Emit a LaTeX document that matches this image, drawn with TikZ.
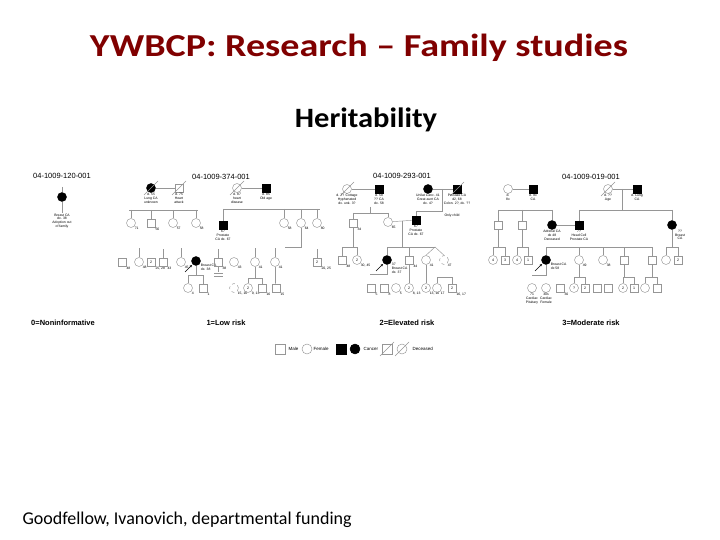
\documentclass[tikz,border=0pt]{standalone}
\usepackage{fontspec}
\setmainfont{Carlito}
\newfontfamily\pedfont{Liberation Sans}
\usepackage{graphicx}
\usepackage{tikz}
\usetikzlibrary{arrows.meta,positioning,calc}
\definecolor{titlered}{RGB}{128,0,0}
\definecolor{pedgray}{RGB}{150,150,150}

\begin{document}
\begin{tikzpicture}[x=1pt,y=1pt,
  male/.style={rectangle,draw=pedgray,line width=0.45pt,minimum size=8.5pt,inner sep=0pt,
               font=\pedfont\fontsize{3.6}{4}\selectfont},
  female/.style={male,circle,minimum size=9pt},
  mcan/.style={male,fill=black,draw=black},
  fcan/.style={female,fill=black,draw=black},
  dec/.style={append after command={($(\tikzlastnode.center)+(-7pt,-7pt)$)
               edge[pedgray,line width=0.45pt] ($(\tikzlastnode.center)+(7pt,7pt)$)}},
  pb/.style={append after command={($(\tikzlastnode.center)+(-11pt,-11pt)$)
               edge[-{Stealth[length=2.5pt,width=2.2pt]},black,line width=0.6pt] ($(\tikzlastnode.center)+(-4pt,-4pt)$)}},
  ped/.style={draw=pedgray,line width=0.45pt},
  lab/.style={font=\pedfont\fontsize{3.4}{3.8}\selectfont,align=center,inner sep=0.6pt},
  num/.style={label={[lab]-50:#1}},
  note/.style={label={[lab]below:#1}},
  hdr/.style={font=\pedfont\fontsize{7.5}{8}\selectfont},
  risk/.style={font=\pedfont\bfseries\fontsize{7.5}{8}\selectfont},
  leg/.style={font=\pedfont\fontsize{4.5}{5}\selectfont,anchor=west,inner sep=0.5pt}
]
\useasboundingbox[fill=white] (0,0) rectangle (720,-540);

% titles
\node[font=\bfseries\fontsize{32}{36}\selectfont,text=titlered,anchor=base] (ttl) at (359,-57) {\scalebox{1.19}[1]{YWBCP: Research – Family studies}};
\node[font=\bfseries\fontsize{28}{32}\selectfont,anchor=base] (sub) at (366,-128) {\scalebox{1.09}[1]{Heritability}};
\node[font=\fontsize{18}{20}\selectfont,anchor=base west] (src) at (19,-524) {Goodfellow, Ivanovich, departmental funding};

% family 0
\node[hdr] (id1) at (62,-176) {04-1009-120-001};
\node[fcan] (a1) at (62,-197) {};
\coordinate (a1up) at (62,-187);
\coordinate (a1dn) at (62,-213);
\draw[ped] (a1up) -- (a1);
\draw[ped] (a1) -- (a1dn);
\node[lab,below=0pt of a1dn] (a1txt) {Breast CA\\dx. 38\\Adoption out\\of family};

% family 1
\node[hdr] (id2) at (221,-177) {04-1009-374-001};
\node[fcan,dec,note={d. 55\\Lung CA\\unknown}] (b1) at (151,-188) {};
\node[male,dec,note={d. 75\\Heart\\attack}] (b2) at (179,-188) {};
\node[female,dec,note={d. 87\\heart\\disease}] (b3) at (237,-188) {};
\node[mcan,note={d. 85\\Old age}] (b4) at (266,-188) {};
\draw[ped] (b1) -- (b2);
\draw[ped] (b3) -- (b4);
\coordinate (s2l) at (129,-210);
\coordinate (s2r) at (198,-210);
\coordinate (s3l) at (223,-209);
\coordinate (s3r) at (320,-209);
\draw[ped] (s2l) -- (s2r);
\draw[ped] (s3l) -- (s3r);
\node[female,num=71] (b5) at (131,-223) {};
\node[male,num=56] (b6) at (151,-223) {};
\node[female,num=57] (b7) at (173,-223) {};
\node[female,num=58] (b8) at (196,-223) {};
\node[mcan,note={67\\Prostate\\CA dx. 67}] (b9) at (223,-225) {};
\node[female,num=58] (b10) at (284,-223) {};
\node[female,num=64] (b11) at (301,-223) {};
\node[female,num=80] (b12) at (317,-223) {};
\foreach \n in {b5,b6,b7,b8}
  \draw[ped] (\n |- s2l) -- (\n);
\foreach \n in {b9,b10,b11,b12}
  \draw[ped] (\n |- s3l) -- (\n);
\coordinate (b11d) at (301,-247);
\coordinate (b11l) at (285,-247);
\draw[ped] (b11) -- (b11d) -- (b11l);
\node[male,num=48] (b13) at (122,-262) {};
\node[female,num=48] (b14) at (139,-262) {};
\node[male,num={25, 28}] (b15) at (151,-262) {2};
\node[male,num=43] (b16) at (163,-262) {};
\node[female,num=45] (b17) at (181,-262) {};
\node[fcan,pb,label={[lab,align=left]-30:Breast CA\\dx. 38}] (b18) at (196,-261) {};
\node[male,num=38] (b19) at (218,-262) {};
\node[female,num=43] (b20) at (234,-262) {};
\node[female,num=41] (b21) at (255,-262) {};
\node[female,num=41] (b22) at (275,-262) {};
\node[male,num={20, 25}] (b23) at (317,-262) {2};
\foreach \n in {b14,b16,b17,b19,b21,b22,b23}
  \draw[ped] (\n.north) -- ++(0,9);
\coordinate (b18d) at (196,-275);
\coordinate (s4l) at (188,-275);
\coordinate (s4r) at (203,-275);
\draw[ped] (b18) -- (b18d);
\draw[ped] (s4l) -- (s4r);
\node[female,num=4] (b24) at (188,-288) {};
\node[male,num=1] (b25) at (203,-288) {};
\draw[ped] (s4l) -- (b24);
\draw[ped] (s4r) -- (b25);
\draw[ped] (b19) -- ++(0,-10);
\draw[ped] (214,-273.5) -- ++(9,0) (214,-276.5) -- ++(9,0);
\node[female,dashed,num={15, 16}] (b26) at (234,-288) {};
\node[female,num={9, 13}] (b27) at (248,-288) {2};
\node[male,num=16] (b28) at (262,-288) {};
\node[male,num=15] (b29) at (276,-288) {};
\coordinate (b21d) at (255,-278);
\draw[ped] (b21) -- (b21d);
\draw[ped] (b27 |- b21d) -- (b28 |- b21d);
\draw[ped] (b27 |- b21d) -- (b27);
\draw[ped] (b28 |- b21d) -- (b28);
\draw[ped] (b22) -- (b22 |- b29.north) -- (b29);

% family 2
\node[hdr] (id3) at (402,-176) {04-1009-293-001};
\node[female,dec,note={d. 7? Cottage\\Hyphenated\\dx. unk. 3?}] (c1) at (347,-189) {};
\node[mcan,note={d. 58\\?? CA\\dx. 58}] (c2) at (379,-189) {};
\node[fcan,note={Unilat Canc. 41\\Great aunt CA\\dx. 4?}] (c3) at (428,-189) {};
\node[mcan,dec,note={Prostate CA\\d2, 68\\Colon. 2?, dx. ??}] (c4) at (457,-189) {};
\draw[ped] (c1) -- (c2);
\draw[ped] (c3) -- (c4);
\node[male,num=34] (c5) at (353,-223) {};
\node[female,num=65] (c6) at (388,-222) {};
\node[mcan,note={67\\Prostate\\CA dx. 67}] (c7) at (416,-220) {};
\coordinate (s5l) at (353,-213);
\coordinate (s5r) at (388,-213);
\coordinate (s5m) at (370,-207);
\draw[ped] (s5l) -- (s5r);
\draw[ped] (s5m) -- (s5m |- s5l);
\draw[ped] (s5l) -- (c5);
\draw[ped] (s5r) -- (c6);
\coordinate (c34) at (442.5,-189);
\coordinate (c34d) at (442.5,-211);
\draw[ped] (c34) -- (c34d) -- (c7 |- c34d) -- (c7);
\node[lab] (only) at (452,-216) {Only child};
\draw[ped] (c6) -- (c7);
\coordinate (c67) at (402,-221);
\coordinate (s6m) at (402,-247);
\coordinate (s6l) at (387,-247);
\coordinate (s6r) at (435,-247);
\draw[ped] (c67) -- (s6m);
\draw[ped] (s6l) -- (s6r);
\coordinate (c5d) at (353,-247);
\coordinate (s7l) at (342,-247);
\coordinate (s7r) at (357,-247);
\draw[ped] (c5) -- (c5d);
\draw[ped] (s7l) -- (s7r);
\node[male,num=48] (c8) at (342,-260) {};
\node[female,num={30, 45}] (c9) at (357,-260) {2};
\node[fcan,pb,label={[lab,align=left]-30:37\\Breast CA\\dx. 37}] (c10) at (387,-260) {};
\node[male,num=44] (c11) at (409,-260) {};
\node[female,num=41] (c12) at (426,-260) {};
\node[female,dashed,num=47] (c13) at (444,-260) {};
\draw[ped] (s7l) -- (c8);
\draw[ped] (s7r) -- (c9);
\draw[ped] (s6l) -- (c10);
\draw[ped] (c11 |- s6l) -- (c11);
\draw[ped] (s6r) -- (c12.north);
\draw[ped] (s6r) -- (c13.north);
\coordinate (c10d) at (387,-274);
\coordinate (c10l) at (370,-274);
\draw[ped] (c10) -- (c10d) -- (c10l);
\node[male,num=5] (c14) at (371,-288) {};
\node[male,num=8] (c15) at (384,-288) {};
\node[female,num=5] (c16) at (396,-288) {};
\node[female,num={8, 13}] (c17) at (409,-288) {2};
\node[female,num={13, 16}] (c18) at (426,-288) {2};
\node[female,num=17] (c19) at (437,-288) {};
\node[male,num={16, 17}] (c20) at (452,-288) {2};
\draw[ped] (c11) -- (c17);
\draw[ped] (c12) -- (c18);
\coordinate (s8l) at (437,-277);
\coordinate (s8r) at (452,-277);
\draw[ped] (c19) -- (s8l) -- (s8r) -- (c20);

% family 3
\node[hdr] (id4) at (591,-177) {04-1009-019-001};
\node[female,note={d.\\8x}] (d1) at (508,-189) {};
\node[mcan,note={d. 8x\\CA}] (d2) at (533,-189) {};
\node[female,dec,note={d. ??\\Age}] (d3) at (608,-189) {};
\node[mcan,note={d. Lung\\CA}] (d4) at (637,-189) {};
\draw[ped] (d1) -- (d2);
\draw[ped] (d3) -- (d4);
\coordinate (d34) at (622.5,-189);
\coordinate (s9m) at (622.5,-210);
\coordinate (s9l) at (579,-210);
\coordinate (s9r) at (672,-210);
\coordinate (s10l) at (498,-210);
\coordinate (s10r) at (552,-210);
\draw[ped] (d34) -- (s9m);
\draw[ped] (s9l) -- (s9r);
\draw[ped] (s10l) -- (s10r);
\node[male] (d5) at (498,-225) {};
\node[male] (d6) at (522,-225) {};
\node[fcan,note={Adrenal CA\\dx 48\\Deceased}] (d7) at (552,-225) {};
\node[mcan,note={7?\\Head Cell\\Prostate CA}] (d8) at (579,-225) {};
\node[fcan,label={[lab]-60:??\\Breast\\CA}] (d9) at (672,-225) {};
\foreach \n in {d5,d6,d7}
  \draw[ped] (\n |- s10l) -- (\n);
\foreach \n in {d8,d9}
  \draw[ped] (\n |- s9l) -- (\n);
\draw[ped] (d7) -- (d8);
\coordinate (s11l) at (546,-247);
\coordinate (s11r) at (652,-247);
\draw[ped] (s11l) -- (s11r);
\coordinate (d5d) at (498,-247);
\coordinate (d6d) at (522,-247);
\coordinate (d9d) at (672,-247);
\draw[ped] (d5) -- (d5d);
\draw[ped] (d6) -- (d6d);
\draw[ped] (d9) -- (d9d);
\node[female] (d10) at (493,-260) {4};
\node[male] (d11) at (505,-260) {3};
\node[female] (d12) at (517,-260) {4};
\node[male] (d13) at (528,-260) {1};
\node[fcan,pb,label={[lab,align=left]-30:Breast CA\\dx 58}] (d14) at (546,-260) {};
\node[female,num=49] (d15) at (579,-260) {};
\node[female,num=38] (d16) at (603,-260) {};
\node[male] (d17) at (624,-260) {};
\node[male] (d18) at (652,-260) {};
\node[female] (d19) at (666,-260) {};
\node[male] (d20) at (678,-260) {2};
\draw[ped] (d10) -- (d10 |- d5d) -- (d11 |- d5d) -- (d11);
\draw[ped] (d12) -- (d12 |- d6d) -- (d13 |- d6d) -- (d13);
\draw[ped] (d19) -- (d19 |- d9d) -- (d20 |- d9d) -- (d20);
\foreach \n in {d14,d15,d16,d17,d18}
  \draw[ped] (\n |- s11l) -- (\n);
\coordinate (d14d) at (546,-275);
\coordinate (d14l) at (532,-275);
\draw[ped] (d14) -- (d14d) -- (d14l);
\node[female,note={71\\Cardiac\\Pituitary}] (d21) at (532,-288) {};
\node[female,note={30s\\Cardiac\\Female}] (d22) at (546,-288) {};
\node[male,num=30] (d23) at (560,-288) {};
\node[female] (d24) at (574,-288) {?};
\node[male] (d25) at (585,-288) {2};
\node[male] (d26) at (597,-288) {};
\node[male] (d27) at (608,-288) {};
\node[female] (d28) at (623,-288) {2};
\node[male] (d29) at (634,-288) {1};
\node[female] (d30) at (645,-288) {};
\node[male] (d31) at (657,-288) {};
\coordinate (d15d) at (579,-277);
\coordinate (d17d) at (624,-277);
\coordinate (d18d) at (652,-277);
\draw[ped] (d15) -- (d15d);
\draw[ped] (d17) -- (d17d);
\draw[ped] (d18) -- (d18d);
\draw[ped] (d24) -- (d24 |- d15d) -- (d25 |- d15d) -- (d25);
\draw[ped] (d28) -- (d28 |- d17d) -- (d29 |- d17d) -- (d29);
\draw[ped] (d30) -- (d30 |- d18d) -- (d31 |- d18d) -- (d31);

% risk classes
\node[risk] (r0) at (63,-323) {0=Noninformative};
\node[risk] (r1) at (226,-323) {1=Low risk};
\node[risk] (r2) at (407,-323) {2=Elevated risk};
\node[risk] (r3) at (591,-323) {3=Moderate risk};

% legend
\node[male,minimum size=10pt] (lg1) at (280,-349) {};
\node[leg] (lgm) at (288,-349) {Male};
\node[female,minimum size=10pt] (lg2) at (307,-349) {};
\node[leg] (lgf) at (313,-349) {Female};
\node[mcan,minimum size=10pt] (lg3) at (341,-349) {};
\node[fcan,minimum size=10pt] (lg4) at (355,-349) {};
\node[leg] (lgc) at (363,-349) {Cancer};
\node[male,dec,minimum size=10pt] (lg5) at (387,-349) {};
\node[female,dec,minimum size=10pt] (lg6) at (402,-349) {};
\node[leg] (lgd) at (412,-349) {Deceased};
\end{tikzpicture}
\end{document}
